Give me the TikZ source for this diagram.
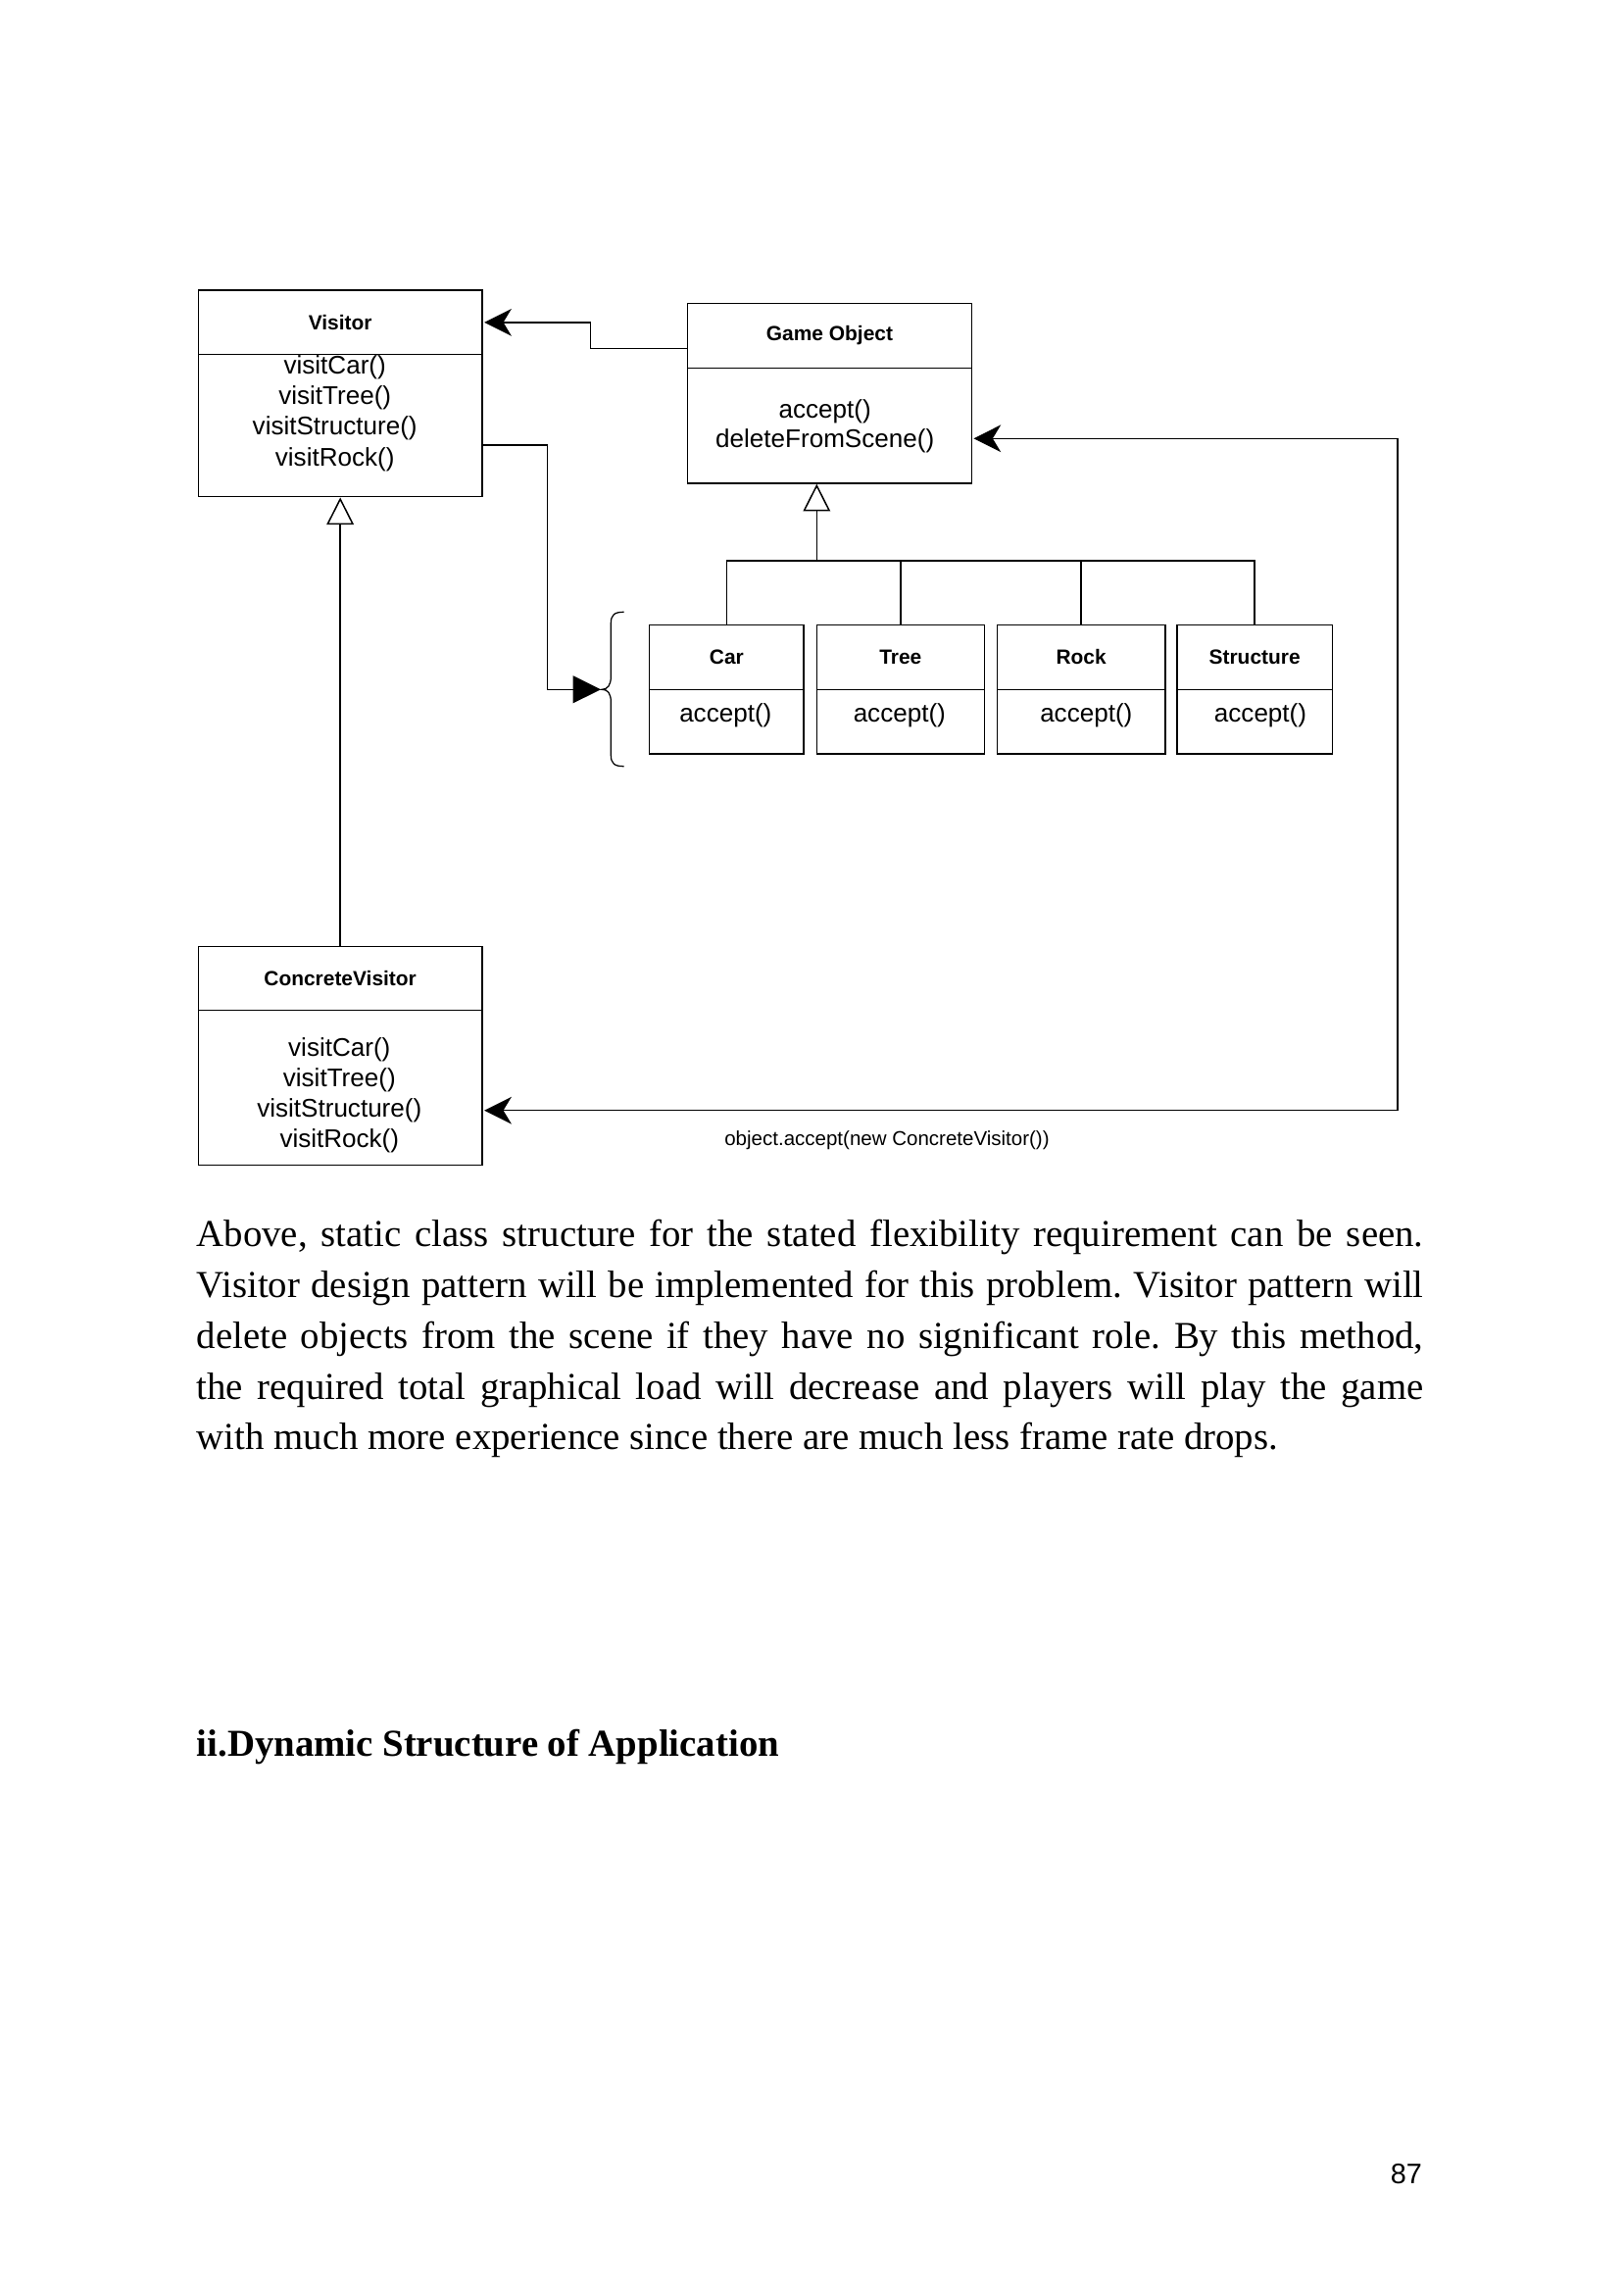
\documentclass[tikz,border=0pt]{standalone}
\usepackage{fontspec}
\setmainfont{Liberation Serif}
\setsansfont{Liberation Sans}
\usetikzlibrary{arrows.meta}
\newlength{\ux}
\setlength{\ux}{0.3608pt}
\frenchspacing
\begin{document}
\begin{tikzpicture}[x=0.3608pt, y=-0.3608pt, line width=0.55pt,
  umlhead/.style={draw, inner sep=0pt, font=\sffamily\bfseries\fontsize{7.55}{9}\selectfont},
  umlbody/.style={draw, inner sep=0pt},
  meth/.style={align=center, inner sep=0pt, font=\sffamily\fontsize{9.4}{11.2}\selectfont},
  assoc/.style={shorten >=0.5pt, -{Stealth[length=10pt, width=10pt, inset=3pt]}},
  twoway/.style={shorten >=0.5pt, shorten <=0.5pt, {Stealth[length=10pt, width=10pt, inset=3pt]}-{Stealth[length=10pt, width=10pt, inset=3pt]}},
  navi/.style={-{Triangle[length=10.2pt, width=10pt]}},
  inherit/.style={-{Triangle[length=10pt, width=10pt, fill=white]}},
  para/.style={inner sep=0pt, text width=1251.7\ux, align=justify, font=\fontsize{14}{18.74}\selectfont}]
  \useasboundingbox (0,0) rectangle (1656,2339);
  \fill[white] (0,0) rectangle (1656,2339);

  % visitor
  \node[umlhead, minimum width=289.7\ux, minimum height=65.7\ux] (hvis) at (347.15,328.85) {Visitor};
  \node[umlbody, minimum width=289.7\ux, minimum height=145\ux] (bvis) at (347.15,434.2) {};
  \node[meth] (mvis) at (341.7,421.7) {visitCar()\\visitTree()\\visitStructure()\\visitRock()};

  % game object
  \node[umlhead, minimum width=289.6\ux, minimum height=66\ux] (hgo) at (846.5,342.3) {Game Object};
  \node[umlbody, minimum width=289.6\ux, minimum height=117.7\ux] (bgo) at (846.5,434.15) {};
  \node[meth] (mgo) at (841.7,435) {accept()\\[-0.4pt]deleteFromScene()};

  % subclasses
  \foreach \nm/\lbl/\cx/\w/\tx in {car/Car/741.35/157.3/740.3, tree/Tree/918.8/171/917.8,
      rock/Rock/1103.15/171.7/1108.3, str/Structure/1280.15/158.3/1286}
  {
    \node[umlhead, minimum width=\w\ux, minimum height=65.6\ux] (h\nm) at (\cx,670.5) {\lbl};
    \node[umlbody, minimum width=\w\ux, minimum height=65.7\ux] (b\nm) at (\cx,736.15) {};
    \node[meth] (m\nm) at (\tx,730) {accept()};
  }

  % concrete visitor
  \node[umlhead, minimum width=289.7\ux, minimum height=65\ux] (hcv) at (347.15,998.2) {ConcreteVisitor};
  \node[umlbody, minimum width=289.7\ux, minimum height=158\ux] (bcv) at (347.15,1109.7) {};
  \node[meth] (mcv) at (346.3,1117.3) {visitCar()\\visitTree()\\visitStructure()\\visitRock()};

  % brace
  \coordinate (brc) at (613,703.3);
  \draw[line width=0.45pt] (636.7,624.3) .. controls (627,624.3) and (623.3,627) .. (623.3,636)
    -- (623.3,690) .. controls (623.3,699) and (620,703.3) .. (614,703.3)
    .. controls (620,703.3) and (623.3,707) .. (623.3,716)
    -- (623.3,770) .. controls (623.3,779) and (627,781.7) .. (636.7,781.7);

  % connectors
  \draw[assoc] ([yshift=-13.4\ux]hgo.west) -- ++(-98.4,0) |- (hvis.east);
  \draw[navi] ([yshift=-19.8\ux]bvis.east) -- ++(65.7,0) |- (brc);
  \draw[inherit] (hcv.north) -- (bvis.south);
  \coordinate (bus) at (833.3,572);
  \draw[inherit] (bus) -- (bus |- bgo.south);
  \draw (hcar.north) |- (bus) -| (hstr.north);
  \draw (htree.north) -- (htree.north |- bus);
  \draw (hrock.north) -- (hrock.north |- bus);
  \draw[twoway] ([yshift=-13.15\ux]bgo.east) -- ++(433.7,0) |- ([yshift=-23\ux]bcv.east);
  \node[inner sep=0pt, font=\sffamily\fontsize{7.4}{9}\selectfont] (call) at (905,1162.7) {object.accept(new ConcreteVisitor())};

  % text
  \node[para, anchor=north west] (txt) at (200,1234.1) {\strut Above, static class structure for the stated flexibility requirement can be seen.\linebreak
    Visitor design pattern will be implemented for this problem. Visitor pattern will\linebreak
    delete objects from the scene if they have no significant role. By this method,\linebreak
    the required total graphical load will decrease and players will play the game\linebreak
    with much more experience since there are much less frame rate drops.};
  \node[anchor=base west, inner sep=0pt, font=\bfseries\fontsize{14}{17}\selectfont] (sec) at (200,1791.7) {ii.Dynamic Structure of Application};
  \node[anchor=base east, inner sep=0pt, font=\sffamily\fontsize{10.4}{12}\selectfont] (pg) at (1451.7,2227.3) {87};
\end{tikzpicture}
\end{document}
